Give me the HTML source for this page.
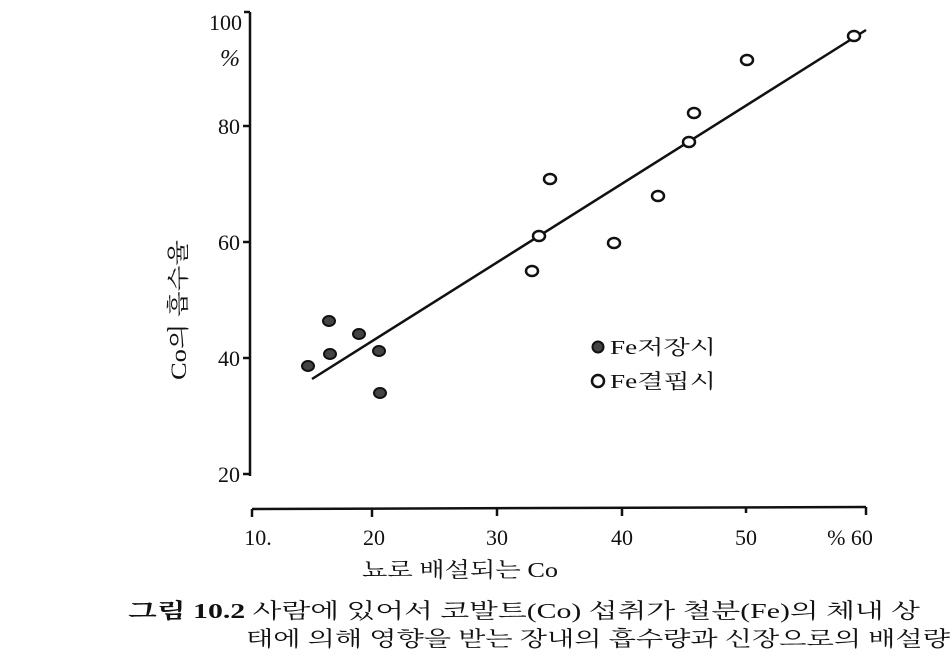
<!DOCTYPE html>
<html><head><meta charset="utf-8"><style>
body{margin:0;background:#fff;}
svg text{font-family:"Liberation Serif","Noto Serif CJK SC","Noto Sans CJK KR",serif;fill:#111;}
</style></head><body>
<svg width="952" height="664" viewBox="0 0 952 664" xmlns="http://www.w3.org/2000/svg">
<rect width="952" height="664" fill="#fff"/>
<g stroke="#111" stroke-width="2.5" fill="none">
<line x1="250" y1="12" x2="250" y2="476"/>
<line x1="250" y1="12" x2="244" y2="12"/>
<line x1="243" y1="126" x2="250" y2="126"/>
<line x1="243" y1="242" x2="250" y2="242"/>
<line x1="243" y1="358" x2="250" y2="358"/>
<line x1="243" y1="474" x2="250" y2="474"/>
<line x1="252" y1="509" x2="866" y2="507"/>
<line x1="252" y1="509" x2="252" y2="517"/>
<line x1="372" y1="509" x2="372" y2="517"/>
<line x1="497" y1="508" x2="497" y2="516"/>
<line x1="622" y1="508" x2="622" y2="516"/>
<line x1="746" y1="507" x2="746" y2="513"/>
<line x1="866" y1="507" x2="866" y2="515"/>
<line x1="312" y1="379" x2="866" y2="30"/>
</g>
<g font-size="22" text-anchor="end">
<text x="242" y="30">100</text>
<text x="240" y="134">80</text>
<text x="240" y="250">60</text>
<text x="240" y="366">40</text>
<text x="240" y="482">20</text>
</g>
<text x="220" y="66" font-size="24" font-style="italic">%</text>
<g font-size="22" text-anchor="middle">
<text x="258" y="545">10.</text>
<text x="374" y="545">20</text>
<text x="497" y="545">30</text>
<text x="622" y="545">40</text>
<text x="746" y="545">50</text>
<text x="850" y="545">% 60</text>
</g>
<text x="362" y="577" font-size="21" textLength="196" lengthAdjust="spacingAndGlyphs">뇨로 배설되는 Co</text>
<text transform="translate(186,380) rotate(-90)" font-size="22" textLength="140" lengthAdjust="spacingAndGlyphs">Co의 흡수율</text>
<g fill="#444" stroke="#111" stroke-width="2">
<ellipse cx="308" cy="366" rx="6" ry="5"/>
<ellipse cx="329" cy="321" rx="6" ry="5"/>
<ellipse cx="330" cy="354" rx="6" ry="5"/>
<ellipse cx="359" cy="334" rx="6" ry="5"/>
<ellipse cx="379" cy="351" rx="6" ry="5"/>
<ellipse cx="380" cy="393" rx="6" ry="5"/>
<circle cx="598" cy="347" r="5.5"/>
</g>
<g fill="#fff" stroke="#111" stroke-width="2.5">
<ellipse cx="532" cy="271" rx="6" ry="5"/>
<ellipse cx="539" cy="236" rx="6" ry="5"/>
<ellipse cx="550" cy="179" rx="6" ry="5"/>
<ellipse cx="614" cy="243" rx="6" ry="5"/>
<ellipse cx="658" cy="196" rx="6" ry="5"/>
<ellipse cx="689" cy="142" rx="6" ry="5"/>
<ellipse cx="694" cy="113" rx="6" ry="5"/>
<ellipse cx="747" cy="60" rx="6" ry="5"/>
<ellipse cx="854" cy="36" rx="6" ry="5"/>
<circle cx="598" cy="381" r="6"/>
</g>
<text x="610" y="354" font-size="20" textLength="106" lengthAdjust="spacingAndGlyphs">Fe저장시</text>
<text x="610" y="388" font-size="20" textLength="106" lengthAdjust="spacingAndGlyphs">Fe결핍시</text>
<text x="128" y="618" font-size="21" font-weight="bold" textLength="792" lengthAdjust="spacingAndGlyphs">그림 10.2 <tspan font-weight="normal">사람에 있어서 코발트(Co) 섭취가 철분(Fe)의 체내 상</tspan></text>
<text x="246" y="646" font-size="21" textLength="704" lengthAdjust="spacingAndGlyphs">태에 의해 영향을 받는 장내의 흡수량과 신장으로의 배설량</text>
</svg>
</body></html>
